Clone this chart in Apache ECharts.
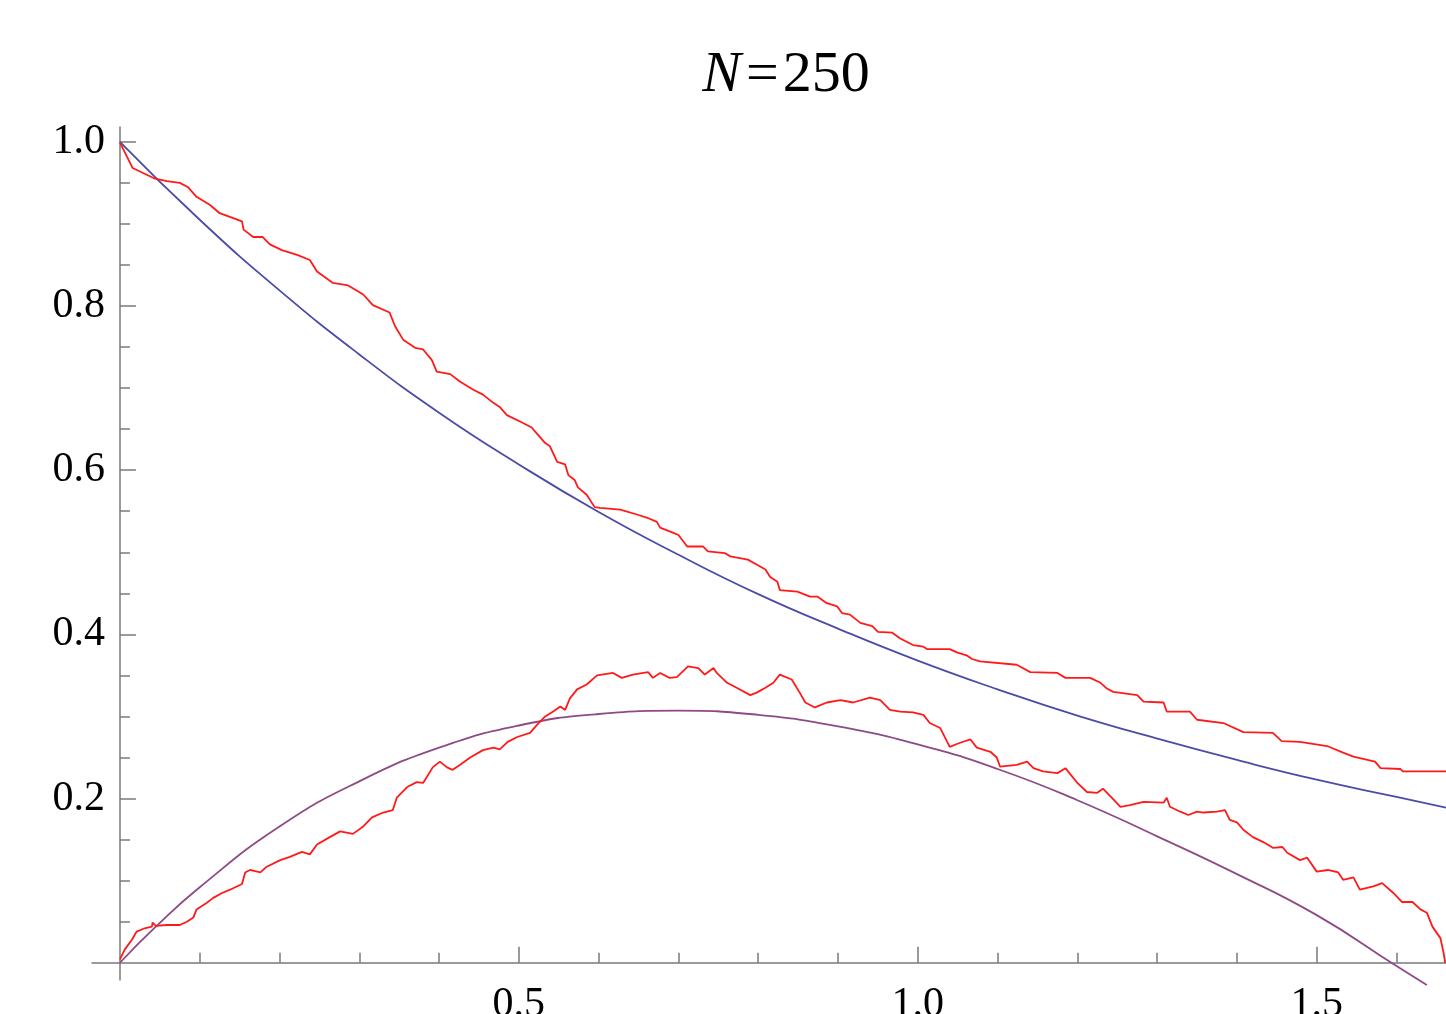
<!DOCTYPE html>
<html>
<head>
<meta charset="utf-8">
<title>N=250</title>
<script src="https://cdn.jsdelivr.net/npm/echarts@6/dist/echarts.min.js"></script>
<style>
  html, body { margin: 0; padding: 0; background: #fff; }
  #chart { width: 1446px; height: 1014px; }
</style>
</head>
<body>
<div id="chart"></div>
<script>
// axis ticks / labels
const xMajor = [0.5, 1.0, 1.5]
const xMinor = [0.1, 0.2, 0.3, 0.4, 0.6, 0.7, 0.8, 0.9, 1.1, 1.2, 1.3, 1.4, 1.6]
const yMajor = [0.2, 0.4, 0.6, 0.8, 1.0]
const yMinor = [0.05, 0.1, 0.15, 0.25, 0.3, 0.35, 0.45, 0.5, 0.55, 0.65, 0.7, 0.75, 0.85, 0.9, 0.95]

// smooth blue curve
const blueCurve = [
  [0, 1.0], [0.1, 0.905], [0.2, 0.819], [0.3, 0.741], [0.4, 0.670], [0.5, 0.607],
  [0.6, 0.549], [0.7, 0.497], [0.8, 0.449], [0.9, 0.407], [1.0, 0.368], [1.1, 0.333],
  [1.2, 0.301], [1.3, 0.273], [1.4, 0.247], [1.5, 0.223], [1.6, 0.202], [1.662, 0.189]
]

// smooth purple curve
const purpleCurve = [
  [0, 0], [0.044, 0.043], [0.1, 0.092], [0.2, 0.166], [0.3, 0.221], [0.4, 0.262],
  [0.5, 0.289], [0.6, 0.303], [0.7, 0.307], [0.8, 0.302], [0.9, 0.288], [1.0, 0.266],
  [1.1, 0.236], [1.2, 0.198], [1.3, 0.154], [1.4, 0.108], [1.5, 0.058], [1.6, -0.004],
  [1.638, -0.027]
]

// red empirical curve, upper
const redUpper = [
  [0, 0.999], [0.016, 0.968], [0.029, 0.962], [0.044, 0.955], [0.059, 0.952], [0.075, 0.950],
  [0.085, 0.945], [0.096, 0.933], [0.113, 0.923], [0.125, 0.913], [0.142, 0.907], [0.153, 0.903],
  [0.155, 0.893], [0.167, 0.884], [0.179, 0.884], [0.188, 0.875], [0.203, 0.868], [0.223, 0.862],
  [0.238, 0.856], [0.247, 0.842], [0.267, 0.828], [0.286, 0.825], [0.305, 0.814], [0.317, 0.801],
  [0.338, 0.792], [0.345, 0.775], [0.355, 0.759], [0.370, 0.749], [0.380, 0.747], [0.391, 0.734],
  [0.397, 0.720], [0.414, 0.717], [0.426, 0.708], [0.443, 0.698], [0.455, 0.692], [0.468, 0.682],
  [0.476, 0.677], [0.485, 0.667], [0.504, 0.658], [0.516, 0.652], [0.524, 0.643], [0.533, 0.633],
  [0.539, 0.629], [0.548, 0.610], [0.558, 0.607], [0.562, 0.594], [0.570, 0.588], [0.574, 0.579],
  [0.585, 0.570], [0.595, 0.555], [0.602, 0.554], [0.627, 0.552], [0.648, 0.546], [0.661, 0.542],
  [0.673, 0.537], [0.677, 0.530], [0.693, 0.524], [0.700, 0.521], [0.711, 0.507], [0.731, 0.507],
  [0.737, 0.501], [0.758, 0.499], [0.765, 0.495], [0.787, 0.491], [0.798, 0.485], [0.809, 0.479],
  [0.815, 0.470], [0.824, 0.464], [0.827, 0.454], [0.849, 0.452], [0.865, 0.446], [0.874, 0.446],
  [0.886, 0.438], [0.899, 0.434], [0.905, 0.426], [0.915, 0.424], [0.928, 0.414], [0.943, 0.410],
  [0.950, 0.403], [0.968, 0.402], [0.978, 0.395], [0.994, 0.387], [1.007, 0.385], [1.012, 0.382],
  [1.040, 0.382], [1.049, 0.378], [1.062, 0.374], [1.068, 0.370], [1.078, 0.367], [1.124, 0.363],
  [1.141, 0.354], [1.175, 0.353], [1.185, 0.347], [1.216, 0.347], [1.229, 0.341], [1.237, 0.334],
  [1.245, 0.330], [1.275, 0.326], [1.283, 0.318], [1.308, 0.317], [1.312, 0.306], [1.341, 0.306],
  [1.350, 0.296], [1.383, 0.292], [1.408, 0.281], [1.445, 0.280], [1.456, 0.270], [1.479, 0.269],
  [1.513, 0.264], [1.533, 0.256], [1.546, 0.251], [1.573, 0.245], [1.580, 0.237], [1.605, 0.236],
  [1.608, 0.233], [1.662, 0.233]
]

// red empirical curve, lower
const redLower = [
  [0, 0.004], [0.006, 0.016], [0.015, 0.028], [0.021, 0.038], [0.031, 0.042], [0.040, 0.044],
  [0.041, 0.049], [0.045, 0.045], [0.059, 0.046], [0.075, 0.046], [0.084, 0.050], [0.092, 0.055],
  [0.096, 0.065], [0.109, 0.073], [0.117, 0.079], [0.128, 0.085], [0.138, 0.089], [0.153, 0.096],
  [0.157, 0.110], [0.163, 0.113], [0.176, 0.110], [0.184, 0.117], [0.201, 0.125], [0.213, 0.129],
  [0.228, 0.135], [0.238, 0.132], [0.247, 0.144], [0.263, 0.153], [0.276, 0.160], [0.292, 0.157],
  [0.305, 0.166], [0.316, 0.177], [0.330, 0.183], [0.342, 0.186], [0.347, 0.201], [0.360, 0.214],
  [0.372, 0.220], [0.380, 0.219], [0.392, 0.238], [0.401, 0.245], [0.410, 0.238], [0.417, 0.235],
  [0.426, 0.241], [0.439, 0.250], [0.455, 0.259], [0.468, 0.262], [0.476, 0.260], [0.486, 0.269],
  [0.498, 0.275], [0.514, 0.280], [0.523, 0.290], [0.533, 0.300], [0.543, 0.306], [0.552, 0.312],
  [0.558, 0.308], [0.564, 0.322], [0.573, 0.333], [0.585, 0.339], [0.598, 0.350], [0.618, 0.353],
  [0.629, 0.347], [0.643, 0.351], [0.662, 0.354], [0.668, 0.347], [0.677, 0.353], [0.689, 0.347],
  [0.698, 0.348], [0.712, 0.361], [0.725, 0.359], [0.733, 0.351], [0.744, 0.359], [0.748, 0.353],
  [0.761, 0.341], [0.773, 0.335], [0.790, 0.326], [0.798, 0.329], [0.809, 0.335], [0.819, 0.341],
  [0.827, 0.351], [0.842, 0.345], [0.852, 0.329], [0.859, 0.317], [0.871, 0.311], [0.886, 0.317],
  [0.903, 0.320], [0.919, 0.317], [0.940, 0.323], [0.953, 0.320], [0.965, 0.308], [0.978, 0.306],
  [0.994, 0.305], [1.007, 0.302], [1.015, 0.292], [1.028, 0.286], [1.040, 0.263], [1.053, 0.268],
  [1.066, 0.272], [1.074, 0.262], [1.091, 0.257], [1.099, 0.250], [1.103, 0.239], [1.124, 0.241],
  [1.137, 0.245], [1.145, 0.237], [1.157, 0.233], [1.175, 0.231], [1.185, 0.237], [1.200, 0.219],
  [1.212, 0.208], [1.225, 0.207], [1.232, 0.212], [1.243, 0.201], [1.254, 0.190], [1.266, 0.192],
  [1.283, 0.196], [1.308, 0.195], [1.312, 0.201], [1.316, 0.190], [1.329, 0.184], [1.339, 0.180],
  [1.350, 0.184], [1.358, 0.183], [1.375, 0.184], [1.385, 0.186], [1.391, 0.174], [1.400, 0.171],
  [1.408, 0.162], [1.420, 0.153], [1.433, 0.147], [1.445, 0.140], [1.457, 0.141], [1.463, 0.134],
  [1.479, 0.125], [1.488, 0.128], [1.500, 0.111], [1.514, 0.113], [1.527, 0.110], [1.533, 0.101],
  [1.546, 0.104], [1.554, 0.089], [1.571, 0.093], [1.582, 0.097], [1.596, 0.085], [1.607, 0.074],
  [1.620, 0.074], [1.630, 0.065], [1.638, 0.061], [1.645, 0.044], [1.655, 0.030], [1.659, 0.012],
  [1.661, 0]
]

const X_MIN = -0.035, X_MAX = 1.662
const Y_MIN = -0.021, Y_MAX = 1.018
const FONT = "'Liberation Serif', 'DejaVu Serif', serif"
const AXIS_COLOR = '#7a7a7a'

// both grids share the same box; the second one only carries minor ticks
const gridBox = { left: 92, right: 0, top: 127, bottom: 34, containLabel: false, outerBoundsMode: 'none' }

function fmt(v) {
  return v.toFixed(1)
}

const chart = echarts.init(document.getElementById('chart'), null, { renderer: 'canvas' })

chart.setOption({
  animation: false,
  backgroundColor: '#fff',
  title: {
    text: '{i|N}{e|=}250',
    left: 781,
    top: 42,
    textAlign: 'center',
    textStyle: {
      fontFamily: FONT,
      fontSize: 58,
      fontWeight: 'normal',
      color: '#000',
      rich: {
        i: { fontFamily: FONT, fontSize: 58, fontStyle: 'italic', color: '#000' },
        e: { fontFamily: FONT, fontSize: 58, color: '#000', padding: [0, 4, 0, 5] }
      }
    }
  },
  grid: [
    Object.assign({}, gridBox),
    Object.assign({}, gridBox)
  ],
  xAxis: [
    {
      // main axis: line, major ticks and labels
      gridIndex: 0,
      type: 'value',
      min: X_MIN,
      max: X_MAX,
      splitLine: { show: false },
      axisLine: { show: true, onZero: true, lineStyle: { color: AXIS_COLOR, width: 1.5 } },
      axisTick: { show: true, inside: true, length: 16, customValues: xMajor, lineStyle: { color: AXIS_COLOR, width: 1.5 } },
      axisLabel: {
        show: true, customValues: xMajor, margin: 4, formatter: fmt,
        fontFamily: FONT, fontSize: 42, color: '#000'
      }
    },
    {
      // minor ticks only
      gridIndex: 1,
      type: 'value',
      min: X_MIN,
      max: X_MAX,
      splitLine: { show: false },
      axisLine: { show: false, onZero: true },
      axisTick: { show: true, inside: true, length: 10, customValues: xMinor, lineStyle: { color: AXIS_COLOR, width: 1.5 } },
      axisLabel: { show: false }
    }
  ],
  yAxis: [
    {
      gridIndex: 0,
      type: 'value',
      min: Y_MIN,
      max: Y_MAX,
      splitLine: { show: false },
      axisLine: { show: true, onZero: true, lineStyle: { color: AXIS_COLOR, width: 1.5 } },
      axisTick: { show: true, inside: true, length: 16, customValues: yMajor, lineStyle: { color: AXIS_COLOR, width: 1.5 } },
      axisLabel: {
        show: true, customValues: yMajor, margin: -13, formatter: fmt,
        fontFamily: FONT, fontSize: 42, color: '#000'
      }
    },
    {
      gridIndex: 1,
      type: 'value',
      min: Y_MIN,
      max: Y_MAX,
      splitLine: { show: false },
      axisLine: { show: false, onZero: true },
      axisTick: { show: true, inside: true, length: 10, customValues: yMinor, lineStyle: { color: AXIS_COLOR, width: 1.5 } },
      axisLabel: { show: false }
    }
  ],
  series: [
    {
      name: 'blue',
      type: 'line',
      xAxisIndex: 0,
      yAxisIndex: 0,
      smooth: true,
      showSymbol: false,
      data: blueCurve,
      lineStyle: { color: '#4b4ba8', width: 1.8 },
      z: 3
    },
    {
      name: 'purple',
      type: 'line',
      xAxisIndex: 0,
      yAxisIndex: 0,
      smooth: true,
      showSymbol: false,
      clip: false,
      data: purpleCurve,
      lineStyle: { color: '#8e4a86', width: 1.8 },
      z: 3
    },
    {
      name: 'redUpper',
      type: 'line',
      xAxisIndex: 0,
      yAxisIndex: 0,
      showSymbol: false,
      data: redUpper,
      lineStyle: { color: '#ff1a1a', width: 1.8 },
      z: 4
    },
    {
      name: 'redLower',
      type: 'line',
      xAxisIndex: 0,
      yAxisIndex: 0,
      showSymbol: false,
      data: redLower,
      lineStyle: { color: '#ff1a1a', width: 1.8 },
      z: 4
    }
  ]
})
</script>
</body>
</html>
